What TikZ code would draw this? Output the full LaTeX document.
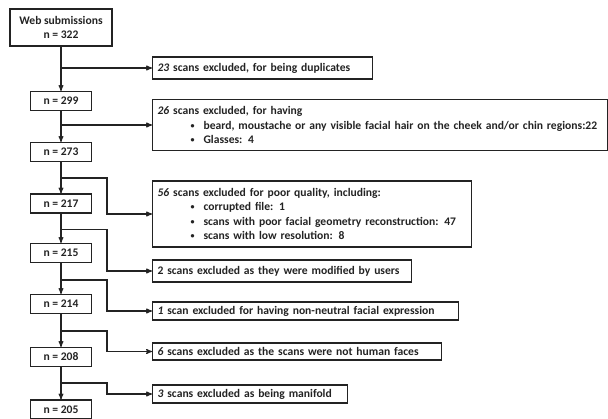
\documentclass[tikz,border=0pt]{standalone}
\usepackage{fontspec}
\setmainfont{Carlito}
\usetikzlibrary{arrows,positioning}
\definecolor{inkgray}{RGB}{35,35,35}
\newcommand{\bul}{\hspace*{33pt}\makebox[13pt][l]{\raisebox{0.8pt}{\fontsize{8}{8}\selectfont\textbullet}}}

\begin{document}
\begin{tikzpicture}[x=1pt,y=-1pt,>=stealth',line width=1.1pt,draw=inkgray,
  every node/.style={font=\bfseries\fontsize{11.6}{14.5}\selectfont,text=inkgray},
  count/.style={draw=inkgray,minimum width=61pt,minimum height=19pt,inner sep=0pt},
  excl/.style={draw=inkgray,anchor=west,align=left,inner sep=0pt,inner xsep=5pt}]
	\useasboundingbox (0,0) rectangle (608,419);

	% counts down the left
	\node[count,minimum width=102pt,minimum height=37pt,align=center] (web) at (61,27.5) {Web submissions\\n = 322};
	\node[count] (n299) at (61,101) {n = 299};
	\node[count] (n273) at (61,152) {n = 273};
	\node[count] (n217) at (61,203.5) {n = 217};
	\node[count] (n215) at (61,253) {n = 215};
	\node[count] (n214) at (61,304) {n = 214};
	\node[count] (n208) at (61,357) {n = 208};
	\node[count] (n205) at (61,409.5) {n = 205};

	% exclusions on the right
	\node[excl,text width=210pt,minimum height=22pt] (ex1) at (152,68) {\mbox{\textit{23} scans excluded, for being duplicates}};
	\node[excl,text width=445pt,minimum height=51pt] (ex2) at (152,125) {\textit{26} scans excluded, for having\\
		\mbox{\bul beard, moustache or any visible facial hair on the cheek and/or chin regions:22}\\
		\bul Glasses: 4};
	\node[excl,text width=309pt,minimum height=66pt] (ex3) at (152,214) {\textit{56} scans excluded for poor quality, including:\\
		\bul corrupted file: 1\\
		\mbox{\bul scans with poor facial geometry reconstruction: 47}\\
		\bul scans with low resolution: 8};
	\node[excl,text width=249pt,minimum height=22pt] (ex4) at (152,271) {\mbox{2 scans excluded as they were modified by users}};
	\node[excl,text width=296pt,minimum height=18pt] (ex5) at (152,311) {\mbox{\textit{1} scan excluded for having non-neutral facial expression}};
	\node[excl,text width=279pt,minimum height=17pt] (ex6) at (152,351.5) {\mbox{\textit{6} scans excluded as the scans were not human faces}};
	\node[excl,text width=185pt,minimum height=18pt] (ex7) at (152,394) {\mbox{\textit{3} scans excluded as being manifold}};

	\draw[->] (web) -- (n299);
	\draw[->] (n299) -- (n273);
	\draw[->] (n273) -- (n217);
	\draw[->] (n217) -- (n215);
	\draw[->] (n215) -- (n214);
	\draw[->] (n214) -- (n208);
	\draw[->] (n208) -- (n205);

	\draw[->] (web.south |- ex1.west) -- (ex1.west);
	\draw[->] (n299.south |- ex2.west) -- (ex2.west);
	\draw[->] (n273.south) ++(0,16) -- ++(46,0) |- (ex3.west);
	\draw[->] (n217.south) ++(0,16) -- ++(46,0) |- (ex4.west);
	\draw[->] (n215.south) ++(0,17) -- ++(46,0) |- (ex5.west);
	\draw[->] (n214.south) ++(0,17) -- ++(46,0) |- (ex6.west);
	\draw[->] (n208.south) ++(0,16) -- ++(46,0) |- (ex7.west);
\end{tikzpicture}
\end{document}
